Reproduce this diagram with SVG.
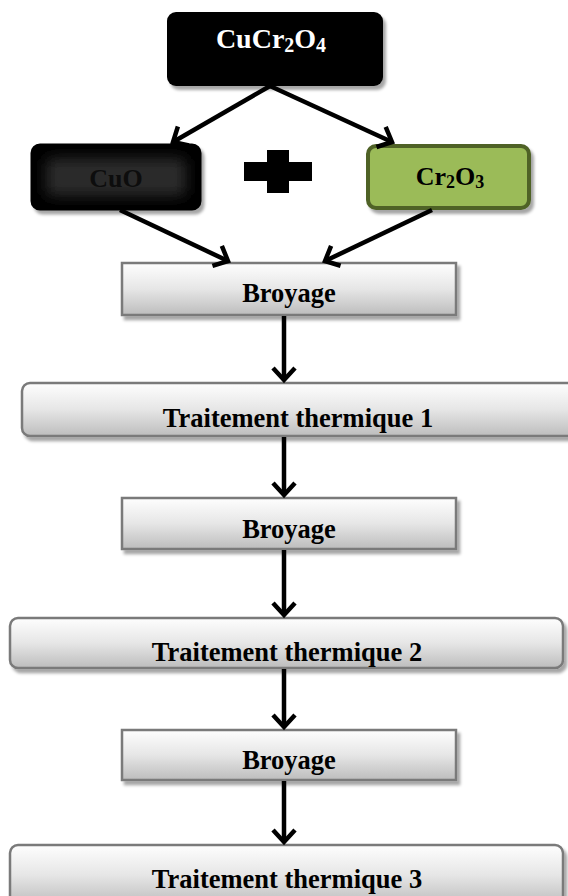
<svg xmlns="http://www.w3.org/2000/svg" width="568" height="896" viewBox="0 0 568 896">
<defs>
<linearGradient id="gray" x1="0" y1="0" x2="0" y2="1">
<stop offset="0" stop-color="#fefefe"/><stop offset="0.5" stop-color="#e6e6e6"/><stop offset="1" stop-color="#bdbdbd"/>
</linearGradient>
<filter id="blur" x="-20%" y="-40%" width="140%" height="180%">
<feGaussianBlur stdDeviation="7"/>
</filter>
<filter id="sh" x="-5%" y="-10%" width="115%" height="130%">
<feDropShadow dx="3" dy="4" stdDeviation="1.5" flood-color="#000" flood-opacity="0.35"/>
</filter>
<marker id="ah" markerUnits="userSpaceOnUse" viewBox="-16 -14 20 28" refX="0" refY="0" markerWidth="20" markerHeight="28" orient="auto" overflow="visible">
<path d="M-12,-11 L0,0 L-12,11" fill="none" stroke="#000" stroke-width="4.5" stroke-linejoin="miter"/>
</marker>
</defs>
<style>
text{font-family:"Liberation Serif","Times New Roman",serif;font-weight:bold;text-anchor:middle}
.step{fill:url(#gray);stroke:#7a7a7a;stroke-width:2.5;filter:url(#sh)}
.lbl{font-size:26.5px;fill:#000}
.conn line{stroke:#000;stroke-width:4.5;marker-end:url(#ah)}
</style>

<g id="cucr2o4">
<rect x="167" y="12" width="216" height="74" rx="9" fill="#000" filter="url(#sh)"/>
<text x="271" y="48" font-size="28" fill="#fff">CuCr<tspan font-size="20" dy="4">2</tspan><tspan dy="-4">O</tspan><tspan font-size="20" dy="4">4</tspan></text>
</g>

<g id="cuo">
<rect x="32" y="145" width="168" height="64" rx="8" fill="#050505" stroke="#000" stroke-width="3" filter="url(#sh)"/>
<rect x="46" y="158" width="140" height="38" rx="6" fill="#2c2c2c" filter="url(#blur)"/>
<text x="116" y="187" font-size="26" fill="#0d0d0d">CuO</text>
</g>

<g id="plus">
<rect x="244" y="162" width="68" height="19" fill="#000"/>
<rect x="267" y="150" width="22" height="43" fill="#000"/>
</g>

<g id="cr2o3">
<rect x="368" y="146" width="161" height="62" rx="8" fill="#9bbb59" stroke="#4f6228" stroke-width="4" filter="url(#sh)"/>
<text x="450" y="185" font-size="26" fill="#000">Cr<tspan font-size="18" dy="3">2</tspan><tspan dy="-3">O</tspan><tspan font-size="18" dy="3">3</tspan></text>
</g>

<g id="broyage1">
<rect class="step" x="122" y="263" width="334" height="52"/>
<text class="lbl" x="289" y="302">Broyage</text>
</g>

<g id="tt1">
<rect class="step" x="22" y="383" width="556" height="53" rx="8"/>
<text class="lbl" x="298" y="427">Traitement thermique 1</text>
</g>

<g id="broyage2">
<rect class="step" x="122" y="498" width="334" height="51"/>
<text class="lbl" x="289" y="538">Broyage</text>
</g>

<g id="tt2">
<rect class="step" x="10" y="618" width="553" height="50" rx="8"/>
<text class="lbl" x="287" y="661">Traitement thermique 2</text>
</g>

<g id="broyage3">
<rect class="step" x="122" y="730" width="334" height="50"/>
<text class="lbl" x="289" y="769">Broyage</text>
</g>

<g id="tt3">
<rect class="step" x="10" y="845" width="553" height="60" rx="8"/>
<text class="lbl" x="287" y="888">Traitement thermique 3</text>
</g>

<g class="conn" id="connectors">
<line x1="270" y1="86" x2="173" y2="142"/>
<line x1="270" y1="86" x2="392" y2="142"/>
<line x1="120" y1="210" x2="228" y2="261"/>
<line x1="432" y1="210" x2="325" y2="261"/>
<line x1="284" y1="316" x2="284" y2="380"/>
<line x1="284" y1="437" x2="284" y2="495"/>
<line x1="284" y1="550" x2="284" y2="615"/>
<line x1="284" y1="669" x2="284" y2="727"/>
<line x1="284" y1="781" x2="284" y2="842"/>
</g>
</svg>
